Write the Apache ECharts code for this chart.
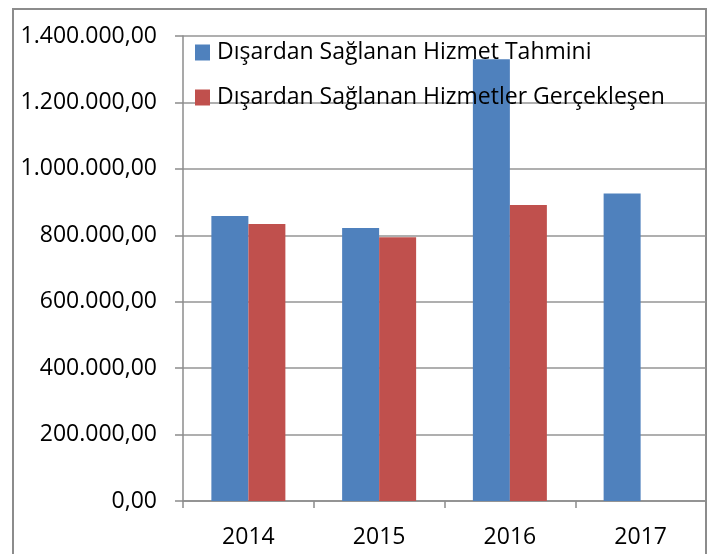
<!DOCTYPE html>
<html>
<head>
<meta charset="utf-8">
<style>
  html, body { margin: 0; padding: 0; background: #ffffff; }
  #chart { width: 717px; height: 554px; }
</style>
<script src="https://cdn.jsdelivr.net/npm/echarts@6/dist/echarts.min.js"></script>
</head>
<body>
<div id="chart"></div>
<script>
var categories = ["2014", "2015", "2016", "2017"];
var tahminValues = [858000, 822000, 1330000, 926000];
var gerceklesenValues = [834000, 794000, 891000, "-"];
var seriesNames = ["Dışardan Sağlanan Hizmet Tahmini", "Dışardan Sağlanan Hizmetler Gerçekleşen"];

function formatTr(v) {
  var s = String(Math.round(v));
  s = s.replace(/\B(?=(\d{3})+(?!\d))/g, ".");
  return s + ",00";
}

var chart = echarts.init(document.getElementById("chart"));

chart.setOption({
  backgroundColor: "#ffffff",
  animation: false,
  textStyle: { fontFamily: "Open Sans" },
  color: ["#4f81bd", "#c0504d"],
  graphic: [
    {
      type: "rect",
      shape: { x: 13, y: 9, width: 693, height: 600 },
      style: { fill: "none", stroke: "#8c8c8c", lineWidth: 2 },
      silent: true
    }
  ],
  legend: {
    orient: "vertical",
    left: 195,
    top: 41,
    padding: 0,
    itemWidth: 15,
    itemHeight: 16,
    itemGap: 22,
    icon: "rect",
    selectedMode: false,
    textStyle: { color: "#000000", fontSize: 23, lineHeight: 16, padding: [0, 0, 0, 2] },
    data: seriesNames
  },
  grid: { left: 183, top: 36, right: 11, bottom: 53, containLabel: false },
  xAxis: {
    type: "category",
    data: categories,
    axisLine: { lineStyle: { color: "#8c8c8c", width: 1.5 } },
    axisTick: { show: true, length: 7, lineStyle: { color: "#8c8c8c", width: 1.5 } },
    axisLabel: { color: "#000000", fontSize: 23, margin: 25 }
  },
  yAxis: {
    type: "value",
    min: 0,
    max: 1400000,
    interval: 200000,
    axisLine: { show: true, lineStyle: { color: "#8c8c8c", width: 1.5 } },
    axisTick: { show: true, length: 8, lineStyle: { color: "#8c8c8c", width: 1.5 } },
    axisLabel: { color: "#000000", fontSize: 23, margin: 26, formatter: formatTr },
    splitLine: { lineStyle: { color: "#959595", width: 1.5 } }
  },
  series: [
    {
      name: seriesNames[0],
      type: "bar",
      barWidth: 37,
      barGap: "0%",
      data: tahminValues
    },
    {
      name: seriesNames[1],
      type: "bar",
      barWidth: 37,
      barGap: "0%",
      data: gerceklesenValues
    }
  ]
});
</script>
</body>
</html>
